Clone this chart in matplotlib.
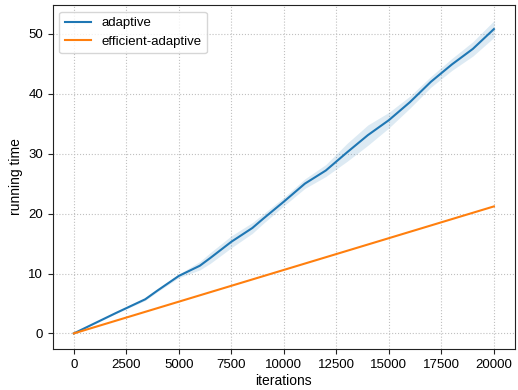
import numpy as np
import matplotlib
matplotlib.use("Agg")
import matplotlib.pyplot as plt

# --- data ---
iterations = [0, 1000, 2000, 3400, 4000, 5000, 6000, 6500, 7500, 8500, 9000,
              10000, 11000, 12000, 13000, 14000, 15000, 16000, 17000, 18000,
              19000, 20000]
adaptive_mean = [0.0, 1.7, 3.4, 5.7, 7.2, 9.6, 11.3, 12.6, 15.3, 17.6, 19.1,
                 22.0, 25.0, 27.2, 30.2, 33.1, 35.6, 38.6, 42.0, 44.9,
                 47.5, 50.8]
adaptive_spread = [0.0, 0.1, 0.1, 0.2, 0.2, 0.3, 0.7, 0.9, 1.0, 0.9, 0.8,
                   0.7, 0.8, 1.0, 1.5, 1.7, 1.3, 1.0, 0.9, 1.0,
                   1.2, 1.4]
efficient_x = [0, 20000]
efficient_mean = [0.0, 21.2]

plt.rcParams['font.family'] = ['Liberation Sans', 'DejaVu Sans']
plt.rcParams['font.size'] = 10

fig = plt.figure(figsize=(5.18, 3.9), dpi=100)
ax = fig.add_axes([0.102, 0.105, 0.892, 0.882])

x = np.array(iterations)
m = np.array(adaptive_mean)
s = np.array(adaptive_spread)

ax.plot(x, m, color='#1f77b4', lw=1.5, label='adaptive')
ax.fill_between(x, m - s, m + s, color='#1f77b4', alpha=0.15, lw=0)
ax.plot(efficient_x, efficient_mean, color='#ff7f0e', lw=1.5, label='efficient-adaptive')

ax.set_xticks([0, 2500, 5000, 7500, 10000, 12500, 15000, 17500, 20000])
ax.set_yticks([0, 10, 20, 30, 40, 50])
ax.set_xlabel('iterations', labelpad=2)
ax.set_ylabel('running time', labelpad=4)
ax.grid(True, linestyle=':', color='#c0c0c0', lw=0.8)
ax.set_axisbelow(True)
for sp in ax.spines.values():
    sp.set_color('#222222')
ax.tick_params(length=3.5, width=0.8, color='#222222', labelsize=9.5)
ax.legend(loc='upper left', fontsize=9.5, framealpha=0.8, edgecolor='#cccccc')

fig.savefig('out.png', dpi=100)
